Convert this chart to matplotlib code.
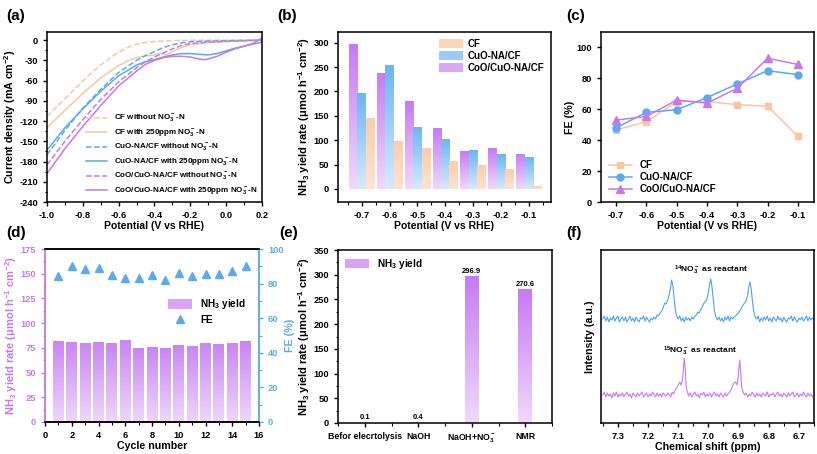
import numpy as np
import matplotlib
matplotlib.use('Agg')
import matplotlib.pyplot as plt
from matplotlib.colors import LinearSegmentedColormap
from matplotlib.patches import Patch
from matplotlib.lines import Line2D
from matplotlib.ticker import MultipleLocator

plt.rcParams['font.family'] = ['Liberation Sans', 'DejaVu Sans']
plt.rcParams['font.weight'] = 'bold'
plt.rcParams['axes.labelweight'] = 'bold'
plt.rcParams['mathtext.default'] = 'regular'
plt.rcParams['axes.unicode_minus'] = False
plt.rcParams['axes.linewidth'] = 1.1
plt.rcParams['xtick.major.width'] = 1.0
plt.rcParams['ytick.major.width'] = 1.0
plt.rcParams['xtick.minor.width'] = 0.8
plt.rcParams['ytick.minor.width'] = 0.8
plt.rcParams['xtick.major.size'] = 3
plt.rcParams['ytick.major.size'] = 3
plt.rcParams['xtick.minor.size'] = 1.8
plt.rcParams['ytick.minor.size'] = 1.8
plt.rcParams['xtick.labelsize'] = 6.7
plt.rcParams['ytick.labelsize'] = 6.7

PEACH = '#f9c6a2'
BLUE = '#5aaaf0'
PURPLE = '#c47be9'

# ---------------- (a) LSV curves ----------------
cf_wo_x = [-1.0, -0.95, -0.9, -0.85, -0.8, -0.75, -0.7, -0.65, -0.6, -0.55, -0.5, -0.45, -0.4, -0.3, -0.2, 0.0, 0.2]
cf_wo_y = [-113, -100, -87, -74, -61, -48, -37, -27, -18, -11, -6, -3.5, -2, -0.8, -0.3, 0, 0]
cf_w_x = [-1.0, -0.9, -0.8, -0.7, -0.6, -0.55, -0.5, -0.45, -0.4, -0.37, -0.35, -0.33, -0.3, -0.25, -0.2, -0.1, 0.0, 0.1, 0.2]
cf_w_y = [-130, -104, -79, -56, -38, -31, -26, -23.5, -22, -19, -21, -22, -17, -11, -7, -4, -2, -1, 0]
cuo_wo_x = [-1.0, -0.9, -0.8, -0.7, -0.6, -0.5, -0.45, -0.4, -0.35, -0.3, -0.25, -0.2, -0.1, 0.0, 0.2]
cuo_wo_y = [-170, -134, -101, -73, -48, -30, -23, -17, -11, -7, -4, -2.5, -1.5, -1, 0]
cuo_w_x = [-1.0, -0.9, -0.8, -0.7, -0.6, -0.5, -0.45, -0.4, -0.35, -0.3, -0.25, -0.2, -0.15, -0.1, -0.05, 0.0, 0.05, 0.1, 0.15, 0.2]
cuo_w_y = [-163, -130, -102, -76, -53, -37, -32, -29, -25, -22, -20, -20, -21, -22, -20, -16, -12, -9, -6, -3]
coo_wo_x = [-1.0, -0.9, -0.8, -0.7, -0.6, -0.5, -0.45, -0.4, -0.35, -0.3, -0.25, -0.2, -0.1, 0.0, 0.1, 0.2]
coo_wo_y = [-185, -150, -118, -88, -62, -41, -32, -25, -19, -13, -8, -5, -3, -2, -1, 0]
coo_w_x = [-1.0, -0.9, -0.8, -0.7, -0.6, -0.5, -0.45, -0.4, -0.35, -0.3, -0.25, -0.2, -0.15, -0.12, -0.1, -0.05, 0.0, 0.05, 0.1, 0.15, 0.2]
coo_w_y = [-198, -161, -128, -97, -68, -46, -36, -30, -26, -24, -24, -25, -28, -29, -28, -24, -18, -13, -9, -5, 3]

# ---------------- (b) yield rate bars ----------------
potentials = [-0.7, -0.6, -0.5, -0.4, -0.3, -0.2, -0.1]
yield_cf = [146, 99, 84, 57, 49, 41, 6]
yield_cuo = [196, 254, 128, 103, 79, 71, 65]
yield_coo = [296.9, 238, 181, 124, 77, 83, 72]

# ---------------- (c) FE ----------------
fe_cf = [46.6, 52, 65, 65, 63, 62, 42.5]
fe_cuo = [48, 58, 59.7, 67.6, 76.4, 85, 82.4]
fe_coo = [53, 55.4, 66, 64, 73.6, 93, 89]

# ---------------- (d) cycling ----------------
cycles = list(range(1, 16))
cycle_yield = [82.4, 81, 80, 81, 79.7, 82.5, 74.5, 75.8, 74.8, 78.4, 76.7, 80.4, 79, 80.4, 81.7]
cycle_fe = [84.6, 90.4, 88.3, 89.2, 85, 83.5, 83.5, 84.8, 82.1, 86.2, 84.2, 85.4, 85.6, 87.5, 90]

# ---------------- (e) control experiments ----------------
ctrl_labels = ['Befor elecrtolysis', 'NaOH', 'NaOH+NO$_3^-$', 'NMR']
ctrl_values = [0.1, 0.4, 296.9, 270.6]

# ---------------- (f) 1H NMR ----------------
n14_ppm = [7.35, 7.345, 7.34, 7.335, 7.33, 7.325, 7.32, 7.315, 7.31, 7.305, 7.30, 7.295, 7.29, 7.285,
           7.28, 7.275, 7.27, 7.265, 7.26, 7.255, 7.25, 7.245, 7.24, 7.235, 7.23, 7.225, 7.22, 7.215,
           7.21, 7.205, 7.20, 7.195, 7.19, 7.185, 7.18, 7.175, 7.17, 7.165, 7.16, 7.155, 7.15, 7.145,
           7.14, 7.135, 7.13, 7.125, 7.122, 7.118, 7.114, 7.11, 7.105, 7.10, 7.095, 7.09, 7.085, 7.08,
           7.075, 7.07, 7.065, 7.06, 7.055, 7.05, 7.045, 7.04, 7.035, 7.03, 7.025, 7.02, 7.016, 7.012,
           7.008, 7.005, 7.0, 6.995, 6.992, 6.988, 6.984, 6.98, 6.975, 6.97, 6.965, 6.96, 6.955, 6.95,
           6.945, 6.94, 6.935, 6.93, 6.925, 6.92, 6.915, 6.91, 6.905, 6.90, 6.895, 6.89, 6.885, 6.88,
           6.875, 6.87, 6.866, 6.862, 6.858, 6.854, 6.85, 6.845, 6.84, 6.835, 6.83, 6.825, 6.82, 6.815,
           6.81, 6.805, 6.80, 6.795, 6.79, 6.785, 6.78, 6.775, 6.77, 6.765, 6.76, 6.755, 6.75, 6.745,
           6.74, 6.735, 6.73, 6.725, 6.72, 6.715, 6.71, 6.705, 6.70, 6.695, 6.69, 6.685, 6.68, 6.675,
           6.67, 6.665, 6.66, 6.655, 6.65]
n14_int = [104, 107, 102, 106, 101, 105, 103, 107, 102, 105, 107, 101, 104, 106,
           102, 106, 101, 104, 107, 102, 105, 101, 106, 103, 101, 105, 104, 107,
           102, 106, 103, 101, 105, 103, 106, 104, 108, 107, 110, 112, 115, 120,
           119, 123, 128, 136, 143, 138, 126, 114, 107, 104, 107, 102, 105, 101,
           106, 103, 105, 102, 106, 104, 107, 108, 111, 110, 114, 116, 119, 121,
           122, 124, 131, 140, 144, 136, 124, 112, 106, 103, 106, 102, 105, 101,
           106, 103, 107, 102, 106, 104, 106, 107, 109, 110, 113, 115, 118, 120,
           122, 128, 136, 141, 134, 122, 112, 106, 104, 107, 101, 105, 102, 106,
           103, 107, 102, 105, 101, 106, 104, 102, 107, 103, 105, 101, 106, 103,
           101, 105, 104, 107, 102, 106, 103, 101, 105, 103, 106, 102, 104, 107,
           102, 106, 103, 105, 104]
n15_ppm = [7.35, 7.345, 7.34, 7.335, 7.33, 7.325, 7.32, 7.315, 7.31, 7.305, 7.30, 7.295, 7.29, 7.285,
           7.28, 7.275, 7.27, 7.265, 7.26, 7.255, 7.25, 7.245, 7.24, 7.235, 7.23, 7.225, 7.22, 7.215,
           7.21, 7.205, 7.20, 7.195, 7.19, 7.185, 7.18, 7.175, 7.17, 7.165, 7.16, 7.155, 7.15, 7.145,
           7.14, 7.135, 7.13, 7.125, 7.12, 7.115, 7.11, 7.105, 7.10, 7.095, 7.09, 7.085, 7.082, 7.080,
           7.077, 7.074, 7.07, 7.065, 7.06, 7.055, 7.05, 7.045, 7.04, 7.035, 7.03, 7.025, 7.02, 7.015,
           7.01, 7.005, 7.00, 6.995, 6.99, 6.985, 6.98, 6.975, 6.97, 6.965, 6.96, 6.955, 6.95, 6.945,
           6.94, 6.935, 6.93, 6.925, 6.92, 6.915, 6.91, 6.905, 6.902, 6.899, 6.896, 6.893, 6.89, 6.885,
           6.88, 6.875, 6.87, 6.865, 6.86, 6.855, 6.85, 6.845, 6.84, 6.835, 6.83, 6.825, 6.82, 6.815,
           6.81, 6.805, 6.80, 6.795, 6.79, 6.785, 6.78, 6.775, 6.77, 6.765, 6.76, 6.755, 6.75, 6.745,
           6.74, 6.735, 6.73, 6.725, 6.72, 6.715, 6.71, 6.705, 6.70, 6.695, 6.69, 6.685, 6.68, 6.675,
           6.67, 6.665, 6.66, 6.655, 6.65]
n15_int = [28, 31, 26, 30, 27, 29, 25, 30, 27, 31, 26, 29, 27, 30,
           26, 29, 31, 27, 29, 25, 30, 28, 26, 30, 27, 29, 31, 26,
           28, 30, 26, 29, 27, 31, 28, 26, 30, 27, 29, 26, 30, 28,
           27, 30, 28, 26, 31, 29, 33, 35, 38, 41, 38, 45, 58, 65,
           55, 38, 31, 27, 30, 26, 29, 31, 27, 29, 25, 30, 28, 31,
           26, 29, 27, 30, 26, 29, 31, 27, 29, 26, 30, 28, 26, 30,
           27, 29, 31, 33, 37, 40, 41, 38, 44, 55, 63, 52, 36, 31,
           28, 30, 26, 29, 27, 31, 28, 26, 30, 27, 29, 26, 30, 28,
           27, 31, 26, 29, 28, 30, 26, 29, 31, 27, 29, 26, 30, 28,
           26, 30, 27, 29, 31, 26, 28, 30, 26, 29, 27, 31, 28, 26,
           30, 27, 29, 26, 28]


def grad_bars(ax, bars, c_top, c_bot):
    cmap = LinearSegmentedColormap.from_list('g', [c_bot, c_top])
    grad = np.linspace(0, 1, 64).reshape(-1, 1)
    for b in bars:
        x0, y0 = b.get_x(), b.get_y()
        w, h = b.get_width(), b.get_height()
        im = ax.imshow(grad, cmap=cmap, aspect='auto', origin='lower',
                       extent=[x0, x0 + w, y0, y0 + h], zorder=2)
        im.set_clip_path(b)


fig = plt.figure(figsize=(8.17, 4.54), dpi=100)

# (a)
ax = fig.add_axes([0.0575, 0.555, 0.263, 0.3745])
ax.plot(cf_wo_x, cf_wo_y, '--', color=PEACH, lw=1.1, label='CF without NO$_3^-$-N')
ax.plot(cf_w_x, cf_w_y, '-', color=PEACH, lw=1.1, label='CF with 250ppm NO$_3^-$-N')
ax.plot(cuo_wo_x, cuo_wo_y, '--', color=BLUE, lw=1.1, label='CuO-NA/CF without NO$_3^-$-N')
ax.plot(cuo_w_x, cuo_w_y, '-', color=BLUE, lw=1.1, label='CuO-NA/CF with 250ppm NO$_3^-$-N')
ax.plot(coo_wo_x, coo_wo_y, '--', color=PURPLE, lw=1.1, label='CoO/CuO-NA/CF without NO$_3^-$-N')
ax.plot(coo_w_x, coo_w_y, '-', color=PURPLE, lw=1.1, label='CoO/CuO-NA/CF with 250ppm NO$_3^-$-N')
ax.set_xlim(-1.0, 0.2)
ax.set_ylim(-240, 12)
ax.set_xticks(np.arange(-1.0, 0.21, 0.2))
ax.set_xticklabels(['-1.0', '-0.8', '-0.6', '-0.4', '-0.2', '0.0', '0.2'])
ax.set_yticks(np.arange(-240, 1, 30))
ax.xaxis.set_minor_locator(MultipleLocator(0.1))
ax.yaxis.set_minor_locator(MultipleLocator(15))
ax.set_xlabel('Potential (V vs RHE)', fontsize=7.5, labelpad=1)
ax.set_ylabel('Current density (mA cm$^{-2}$)', fontsize=7.7, labelpad=1)
ax.legend(loc='lower right', fontsize=5.8, frameon=False, handlelength=2.6,
          labelspacing=0.3, borderaxespad=0.15)
fig.text(0.008, 0.955, '(a)', fontsize=11, fontweight='bold')

# (b)
ax = fig.add_axes([0.4137, 0.555, 0.2607, 0.3745])
w = 0.03
pos = np.array(potentials)
b_coo = ax.bar(pos - w, yield_coo, w, color='none', zorder=2)
b_cuo = ax.bar(pos, yield_cuo, w, color='none', zorder=2)
b_cf = ax.bar(pos + w, yield_cf, w, color='none', zorder=2)
grad_bars(ax, b_coo, '#c77bf3', '#f0d8fb')
grad_bars(ax, b_cuo, '#6cb5f4', '#d6eafc')
grad_bars(ax, b_cf, '#fbcdab', '#fde3d1')
ax.set_xlim(-0.785, -0.02)
ax.set_ylim(-27, 322)
ax.set_xticks(potentials)
ax.set_xticklabels(['-0.7', '-0.6', '-0.5', '-0.4', '-0.3', '-0.2', '-0.1'])
ax.xaxis.set_minor_locator(MultipleLocator(0.05))
ax.set_yticks(np.arange(0, 301, 50))
ax.set_xlabel('Potential (V vs RHE)', fontsize=7.5, labelpad=1)
ax.set_ylabel('NH$_3$ yield rate (μmol h$^{-1}$ cm$^{-2}$)', fontsize=8, labelpad=1)
hb = [Patch(facecolor='#fcd6bb'), Patch(facecolor='#9ccbf7'), Patch(facecolor='#dba8f6')]
ax.legend(hb, ['CF', 'CuO-NA/CF', 'CoO/CuO-NA/CF'], loc='upper right', fontsize=7,
          frameon=False, handlelength=2.4, handleheight=1.1, labelspacing=0.2,
          borderaxespad=0.3, handletextpad=0.5)
fig.text(0.339, 0.955, '(b)', fontsize=11, fontweight='bold')

# (c)
ax = fig.add_axes([0.7356, 0.555, 0.2607, 0.3745])
ax.plot(potentials, fe_cf, '-s', color=PEACH, ms=5, lw=1.1, label='CF')
ax.plot(potentials, fe_cuo, '-o', color=BLUE, ms=5, lw=1.1, label='CuO-NA/CF')
ax.plot(potentials, fe_coo, '-^', color=PURPLE, ms=5.5, lw=1.1, label='CoO/CuO-NA/CF')
ax.set_xlim(-0.75, -0.047)
ax.set_ylim(0, 110)
ax.set_xticks(potentials)
ax.set_xticklabels(['-0.7', '-0.6', '-0.5', '-0.4', '-0.3', '-0.2', '-0.1'])
ax.set_yticks(np.arange(0, 101, 20))
ax.set_xlabel('Potential (V vs RHE)', fontsize=7.5, labelpad=1)
ax.set_ylabel('FE (%)', fontsize=7.7, labelpad=1)
ax.legend(loc='lower left', fontsize=7, frameon=False, handlelength=2.4,
          labelspacing=0.2, borderaxespad=0.4)
fig.text(0.693, 0.955, '(c)', fontsize=11, fontweight='bold')

# (d)
ax = fig.add_axes([0.0551, 0.0705, 0.262, 0.381])
bd = ax.bar(cycles, cycle_yield, 0.82, color='none', zorder=2)
grad_bars(ax, bd, '#c986f4', '#efd6fb')
ax.set_xlim(0, 16)
ax.set_ylim(0, 175)
ax.set_xticks(np.arange(0, 17, 2))
ax.xaxis.set_minor_locator(MultipleLocator(1))
ax.set_yticks(np.arange(0, 176, 25))
ax.yaxis.set_minor_locator(MultipleLocator(12.5))
ax.tick_params(axis='y', which='both', colors=PURPLE, labelcolor=PURPLE)
ax.set_xlabel('Cycle number', fontsize=7.7, labelpad=1)
ax.set_ylabel('NH$_3$ yield rate (μmol h$^{-1}$ cm$^{-2}$)', fontsize=8, labelpad=1, color=PURPLE)
ax2 = ax.twinx()
ax2.plot(cycles, cycle_fe, '^', color=BLUE, ms=6, ls='none')
ax2.set_ylim(0, 100)
ax2.set_yticks(np.arange(0, 101, 20))
ax2.yaxis.set_minor_locator(MultipleLocator(10))
ax2.tick_params(axis='y', which='both', colors=BLUE, labelcolor=BLUE)
ax2.set_ylabel('FE (%)', fontsize=7.7, labelpad=1, color=BLUE)
for a_ in (ax, ax2):
    a_.spines['left'].set_color(PURPLE)
    a_.spines['right'].set_color(BLUE)
hd = [Patch(facecolor='#d9a3f6'),
      Line2D([], [], marker='^', color=BLUE, ls='none', ms=6)]
ax2.legend(hd, ['NH$_3$ yield', 'FE'], loc='center right', bbox_to_anchor=(0.98, 0.64),
           fontsize=7.2, frameon=False, handlelength=2.4, handleheight=1.1, labelspacing=0.4)
fig.text(0.008, 0.478, '(d)', fontsize=11, fontweight='bold')

# (e)
ax = fig.add_axes([0.4137, 0.0683, 0.262, 0.381])
xe = np.arange(len(ctrl_values))
be = ax.bar(xe, ctrl_values, 0.26, color='none', zorder=2)
grad_bars(ax, be, '#c77bf3', '#f0d8fb')
for xi, v in zip(xe, ctrl_values):
    ax.text(xi, v + 3, f'{v:.1f}', ha='center', va='bottom', fontsize=5.5, fontweight='bold')
ax.set_xlim(-0.5, 3.5)
ax.set_ylim(0, 350)
ax.set_xticks(xe)
ax.set_xticklabels(ctrl_labels, fontsize=6.3)
ax.xaxis.set_minor_locator(MultipleLocator(0.5))
ax.set_yticks(np.arange(0, 351, 50))
ax.yaxis.set_minor_locator(MultipleLocator(25))
ax.set_ylabel('NH$_3$ yield rate (μmol h$^{-1}$ cm$^{-2}$)', fontsize=8, labelpad=1)
ax.legend([Patch(facecolor='#d9a3f6')], ['NH$_3$ yield'], loc='upper left', fontsize=7.2,
          frameon=False, handlelength=2.4, handleheight=1.1, borderaxespad=0.3)
fig.text(0.342, 0.478, '(e)', fontsize=11, fontweight='bold')

# (f)
ax = fig.add_axes([0.7356, 0.0683, 0.2607, 0.381])
ax.plot(n14_ppm, n14_int, color='#4ea3ee', lw=0.8)
ax.plot(n15_ppm, n15_int, color='#c77cee', lw=0.8)
ax.text(6.99, 153, '$^{14}$NO$_3^-$ as reactant', ha='center', va='center', fontsize=6)
ax.text(7.028, 72, '$^{15}$NO$_3^-$ as reactant', ha='center', va='center', fontsize=6)
ax.set_xlim(7.356, 6.65)
ax.set_ylim(0, 173)
ax.set_xticks([7.3, 7.2, 7.1, 7.0, 6.9, 6.8, 6.7])
ax.set_xticklabels(['7.3', '7.2', '7.1', '7.0', '6.9', '6.8', '6.7'])
ax.xaxis.set_minor_locator(MultipleLocator(0.05))
ax.set_yticks([])
ax.set_xlabel('Chemical shift (ppm)', fontsize=7.7, labelpad=1)
ax.set_ylabel('Intensity (a.u.)', fontsize=7.7, labelpad=4)
fig.text(0.693, 0.478, '(f)', fontsize=11, fontweight='bold')

fig.savefig('out.png', dpi=100)
